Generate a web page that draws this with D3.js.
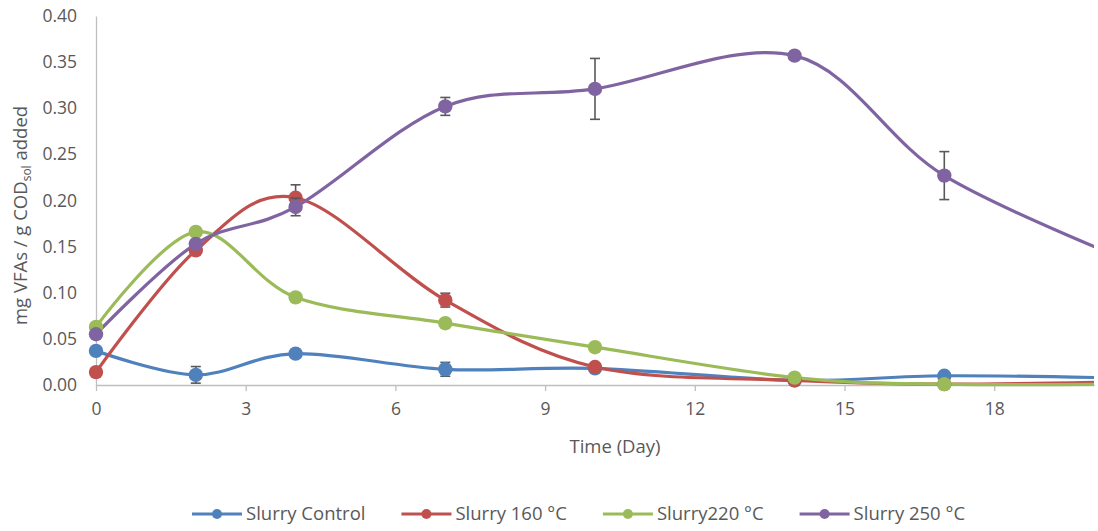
<!DOCTYPE html>
<html>
<head>
<meta charset="utf-8">
<script src="https://cdn.jsdelivr.net/npm/d3@7"></script>
<style>
  html, body { margin: 0; padding: 0; background: #fff; }
  svg { display: block; }
  text { font-family: "Open Sans", "Liberation Sans", sans-serif; fill: #595959; }
</style>
</head>
<body>
<svg id="chart" width="1098" height="531"></svg>
<script>
// Sampling days (the last sample lies past the visible axis end)
const days = [0, 2, 4, 7, 10, 14, 17, 21];

// mg VFAs / g COD_sol added
const control = [0.037, 0.011, 0.034, 0.017, 0.018, 0.005, 0.010, 0.007];
const t160    = [0.014, 0.146, 0.203, 0.092, 0.0195, 0.005, 0.001, 0.004];
const t220    = [0.063, 0.166, 0.095, 0.067, 0.041, 0.008, 0.001, 0.001];
const t250    = [0.055, 0.153, 0.193, 0.302, 0.321, 0.357, 0.227, 0.128];

// Standard deviations
const controlErr = [0.003, 0.009, 0.003, 0.0075, 0.003, 0.002, 0.002, 0.002];
const t160Err    = [0.003, 0.004, 0.014, 0.0075, 0.003, 0.002, 0.002, 0.002];
const t220Err    = [0.003, 0.003, 0.003, 0.003, 0.003, 0.002, 0.002, 0.002];
const t250Err    = [0.003, 0.004, 0.0095, 0.0097, 0.033, 0.003, 0.026, 0.003];

const seriesNames  = ["Slurry Control", "Slurry 160 °C", "Slurry220 °C", "Slurry 250 °C"];
const seriesColors = ["#4f81bd", "#c0504d", "#9bbb59", "#8064a2"];

const xTicks = [0, 3, 6, 9, 12, 15, 18];
const yTicks = [0, 0.05, 0.10, 0.15, 0.20, 0.25, 0.30, 0.35, 0.40];

const series = [
  { name: seriesNames[0], color: seriesColors[0], values: control, err: controlErr },
  { name: seriesNames[1], color: seriesColors[1], values: t160,    err: t160Err },
  { name: seriesNames[2], color: seriesColors[2], values: t220,    err: t220Err },
  { name: seriesNames[3], color: seriesColors[3], values: t250,    err: t250Err }
];

const svg = d3.select("#chart");
const margin = { left: 96, top: 16, right: 4, bottom: 146 };
const W = 1098 - margin.left - margin.right;
const H = 531 - margin.top - margin.bottom;

const x = d3.scaleLinear().domain([0, 20]).range([0, W]);
const y = d3.scaleLinear().domain([0, 0.40]).range([H, 0]);

const g = svg.append("g").attr("transform", `translate(${margin.left},${margin.top})`);

svg.append("defs").append("clipPath").attr("id", "plotClip")
  .append("rect").attr("x", -30).attr("y", -30).attr("width", W + 30).attr("height", H + 60);

// Y axis (labels only, plain line)
const yAxis = g.append("g").call(
  d3.axisLeft(y).tickValues(yTicks).tickFormat(d3.format(".2f")).tickSize(0).tickPadding(19)
);
yAxis.select(".domain").attr("stroke", "#bfbfbf").attr("stroke-width", 1.3);
yAxis.selectAll("text").style("font-size", "17.5px").attr("fill", "#595959");

// X axis
const xAxis = g.append("g").attr("transform", `translate(0,${H})`).call(
  d3.axisBottom(x).tickValues(xTicks).tickFormat(d3.format("d")).tickSizeInner(6).tickSizeOuter(0).tickPadding(12)
);
xAxis.select(".domain").attr("stroke", "#bfbfbf").attr("stroke-width", 1.3);
xAxis.selectAll(".tick line").attr("stroke", "#bfbfbf").attr("stroke-width", 1.3);
xAxis.selectAll("text").style("font-size", "17.5px").attr("fill", "#595959");

// Axis titles
g.append("text")
  .attr("x", (x(0) + x(20)) / 2 + 20).attr("y", H + 68)
  .attr("text-anchor", "middle").style("font-size", "18.5px")
  .text("Time (Day)");

const yTitle = svg.append("text")
  .attr("transform", `translate(27,${margin.top + H / 2 + 15}) rotate(-90)`)
  .attr("text-anchor", "middle").style("font-size", "18.5px");
yTitle.append("tspan").text("mg VFAs / g COD");
yTitle.append("tspan").attr("dy", 4).style("font-size", "12px").text("sol");
yTitle.append("tspan").attr("dy", -4).text(" added");

// Smoothed lines
const line = d3.line()
  .x((d, i) => x(days[i]))
  .y(d => y(d))
  .curve(d3.curveCatmullRom.alpha(0));

const plot = g.append("g").attr("clip-path", "url(#plotClip)");

series.forEach(s => {
  plot.append("path")
    .datum(s.values)
    .attr("fill", "none")
    .attr("stroke", s.color)
    .attr("stroke-width", 3.2)
    .attr("stroke-linejoin", "round")
    .attr("d", line);
});

// Error bars and markers
series.forEach(s => {
  const pts = s.values.map((v, i) => ({ day: days[i], v, e: s.err[i] })).filter(p => p.day <= 20);
  const eb = plot.append("g").attr("stroke", "#595959").attr("stroke-width", 1.6);
  pts.forEach(p => {
    const cx = x(p.day);
    eb.append("line").attr("x1", cx).attr("x2", cx).attr("y1", y(p.v + p.e)).attr("y2", y(Math.max(0, p.v - p.e)));
    eb.append("line").attr("x1", cx - 5).attr("x2", cx + 5).attr("y1", y(p.v + p.e)).attr("y2", y(p.v + p.e));
    eb.append("line").attr("x1", cx - 5).attr("x2", cx + 5).attr("y1", y(Math.max(0, p.v - p.e))).attr("y2", y(Math.max(0, p.v - p.e)));
  });
  plot.append("g").selectAll("circle").data(pts).join("circle")
    .attr("cx", p => x(p.day)).attr("cy", p => y(p.v)).attr("r", 7.2)
    .attr("fill", s.color);
});

// Legend
const legend = svg.append("g").attr("transform", "translate(192,514)");
let lx = 0;
series.forEach(s => {
  const item = legend.append("g").attr("transform", `translate(${lx},0)`);
  item.append("line").attr("x1", 0).attr("x2", 50).attr("y1", 0).attr("y2", 0)
    .attr("stroke", s.color).attr("stroke-width", 3.2);
  item.append("circle").attr("cx", 25).attr("cy", 0).attr("r", 5).attr("fill", s.color);
  const t = item.append("text").attr("x", 54).attr("y", 0).attr("dy", "0.35em")
    .style("font-size", "18.5px").text(s.name);
  lx += 54 + t.node().getComputedTextLength() + 36;
});
</script>
</body>
</html>
